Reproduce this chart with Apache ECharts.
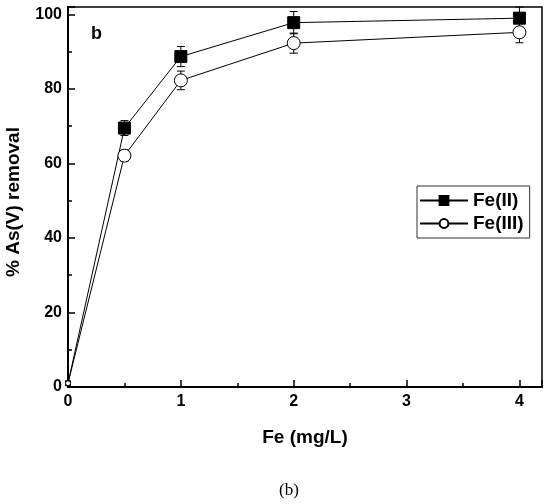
<!DOCTYPE html>
<html>
<head>
<meta charset="utf-8">
<script src="https://cdn.jsdelivr.net/npm/echarts@6/dist/echarts.min.js"></script>
<style>
  html, body { margin: 0; padding: 0; background: #fff; }
  #chart { width: 550px; height: 504px; }
</style>
</head>
<body>
<div id="chart"></div>
<script>
// Fe dose (mg/L)
const doses = [0, 0.5, 1, 2, 4];
// % As(V) removal
const fe2 = [1, 69.5, 88.7, 97.8, 99];
const fe3 = [1, 62.1, 82.3, 92.3, 95.2];
// error bar half-heights
const fe2Err = [0, 2, 2.7, 3, 3];
const fe3Err = [0, 1.5, 2.5, 2.7, 2.8];
const xTicks = [0, 1, 2, 3, 4];
const yTicks = [0, 20, 40, 60, 80, 100];

const font = 'Liberation Sans, Arial, sans-serif';

function pairs(ys) {
  return doses.map((x, i) => {
    let item = { value: [x, ys[i]] };
    if (i === 0) item.symbolSize = 5;
    return item;
  });
}
function errData(ys, es) {
  return doses.map((x, i) => [x, ys[i] - es[i], ys[i] + es[i]]).filter((d, i) => es[i] > 0);
}
function renderErr(params, api) {
  let lo = api.coord([api.value(0), api.value(1)]);
  let hi = api.coord([api.value(0), api.value(2)]);
  let w = 4;
  let st = { stroke: '#000', lineWidth: 1 };
  return {
    type: 'group',
    children: [
      { type: 'line', shape: { x1: lo[0], y1: lo[1], x2: hi[0], y2: hi[1] }, style: st },
      { type: 'line', shape: { x1: lo[0] - w, y1: lo[1], x2: lo[0] + w, y2: lo[1] }, style: st },
      { type: 'line', shape: { x1: hi[0] - w, y1: hi[1], x2: hi[0] + w, y2: hi[1] }, style: st }
    ]
  };
}

let chart = echarts.init(document.getElementById('chart'));
chart.setOption({
  animation: false,
  backgroundColor: '#fff',
  grid: {
    left: 68, right: 8, top: 7, bottom: 117,
    outerBoundsMode: 'none',
    show: true, borderColor: '#000', borderWidth: 1.5
  },
  legend: {
    orient: 'vertical',
    left: 417, top: 186,
    padding: [5, 6, 5, 2],
    itemGap: 4,
    itemWidth: 48, itemHeight: 11,
    borderColor: '#333', borderWidth: 1,
    textStyle: { fontFamily: font, fontWeight: 'bold', fontSize: 19, color: '#000' },
    data: ['Fe(II)', 'Fe(III)']
  },
  xAxis: {
    type: 'value',
    min: 0, max: 4.2, interval: 1,
    axisLine: { lineStyle: { color: '#000', width: 2 } },
    axisTick: { inside: true, length: 7, lineStyle: { color: '#000', width: 1.5 } },
    minorTick: { show: true, splitNumber: 2, length: 4, lineStyle: { color: '#000', width: 1.5 } },
    splitLine: { show: false },
    axisLabel: {
      margin: 7,
      fontFamily: font, fontWeight: 'bold', fontSize: 16, color: '#000',
      formatter: v => xTicks.includes(v) ? String(v) : ''
    },
    name: 'Fe (mg/L)',
    nameLocation: 'middle',
    nameGap: 41,
    nameTextStyle: { fontFamily: font, fontWeight: 'bold', fontSize: 19, color: '#000' }
  },
  yAxis: {
    type: 'value',
    min: 0, max: 102, interval: 20,
    axisLine: { lineStyle: { color: '#000', width: 2 } },
    axisTick: { inside: true, length: 7, lineStyle: { color: '#000', width: 1.5 } },
    minorTick: { show: true, splitNumber: 2, length: 4, lineStyle: { color: '#000', width: 1.5 } },
    splitLine: { show: false },
    axisLabel: {
      margin: 6,
      fontFamily: font, fontWeight: 'bold', fontSize: 16, color: '#000',
      formatter: v => yTicks.includes(v) ? String(v) : ''
    },
    name: '% As(V) removal',
    nameLocation: 'middle',
    nameGap: 45,
    nameTextStyle: { fontFamily: font, fontWeight: 'bold', fontSize: 19, color: '#000', padding: [0, 10, 0, 0] }
  },
  graphic: [
    { type: 'text', left: 91, top: 25, style: { text: 'b', font: 'bold 18px ' + font, fill: '#000' } },
    { type: 'text', left: 279, top: 482, style: { text: '(b)', font: '17px "Liberation Serif", "DejaVu Serif", serif', fill: '#000' } }
  ],
  series: [
    {
      type: 'custom', name: 'err2', renderItem: renderErr, data: errData(fe2, fe2Err),
      encode: { x: 0, y: [1, 2] }, z: 1, silent: true
    },
    {
      type: 'custom', name: 'err3', renderItem: renderErr, data: errData(fe3, fe3Err),
      encode: { x: 0, y: [1, 2] }, z: 1, silent: true
    },
    {
      name: 'Fe(II)', type: 'line', data: pairs(fe2), z: 3,
      symbol: 'rect', symbolSize: 12,
      lineStyle: { color: '#000', width: 1 },
      itemStyle: { color: '#000', borderColor: '#000', borderWidth: 1 }
    },
    {
      name: 'Fe(III)', type: 'line', data: pairs(fe3), z: 3,
      symbol: 'circle', symbolSize: 13,
      lineStyle: { color: '#000', width: 1 },
      itemStyle: { color: '#fff', borderColor: '#000', borderWidth: 1 }
    }
  ]
});
</script>
</body>
</html>
